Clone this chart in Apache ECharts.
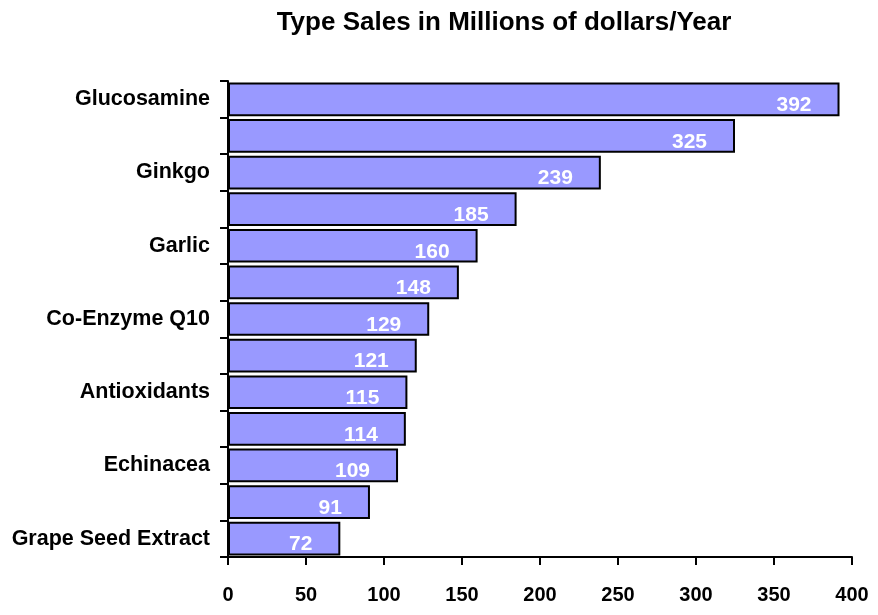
<!DOCTYPE html>
<html><head><meta charset="utf-8">
<script src="https://cdn.jsdelivr.net/npm/echarts@6/dist/echarts.min.js"></script>
<style>html,body{margin:0;padding:0;background:#fff}#c{width:878px;height:615px}</style>
</head><body><div id="c"></div>
<script>
var categories = ["Glucosamine", "", "Ginkgo", "", "Garlic", "", "Co-Enzyme Q10", "", "Antioxidants", "", "Echinacea", "", "Grape Seed Extract"];
var values = [392, 325, 239, 185, 160, 148, 129, 121, 115, 114, 109, 91, 72];
var xTicks = [0, 50, 100, 150, 200, 250, 300, 350, 400];
var titleText = "Type Sales in Millions of dollars/Year";

var F = "'Liberation Sans', Arial, sans-serif";
var chart = echarts.init(document.getElementById('c'));
chart.setOption({
  animation: false,
  title: { text: titleText, left: 499, textAlign: 'center', top: 5,
    textStyle: { fontFamily: F, fontWeight: 'bold', fontSize: 26, color: '#000' } },
  grid: { left: 228, right: 26, top: 81, bottom: 58, containLabel: false },
  xAxis: { type: 'value', min: xTicks[0], max: xTicks[xTicks.length-1], interval: 50,
    splitLine: { show: false },
    axisLine: { show: true, lineStyle: { color: '#000', width: 2 } },
    axisTick: { show: true, length: 8, lineStyle: { color: '#000', width: 2 } },
    axisLabel: { margin: 28, fontFamily: F, fontWeight: 'bold', fontSize: 20, color: '#000' } },
  yAxis: { type: 'category', data: categories, inverse: true,
    axisLine: { show: true, lineStyle: { color: '#000', width: 2 } },
    axisTick: { show: true, length: 8, interval: 0, lineStyle: { color: '#000', width: 2 } },
    axisLabel: { interval: 0, margin: 18, fontFamily: F, fontWeight: 'bold', fontSize: 21.5, color: '#000' } },
  series: [{
    type: 'bar', data: values, barCategoryGap: '8%',
    itemStyle: { color: '#9999FF', borderColor: '#000', borderWidth: 2 },
    label: { show: true, position: 'insideRight', distance: 28, offset: [0, 6],
      fontFamily: F, fontWeight: 'bold', fontSize: 21, color: '#fff' }
  }]
});
</script></body></html>
